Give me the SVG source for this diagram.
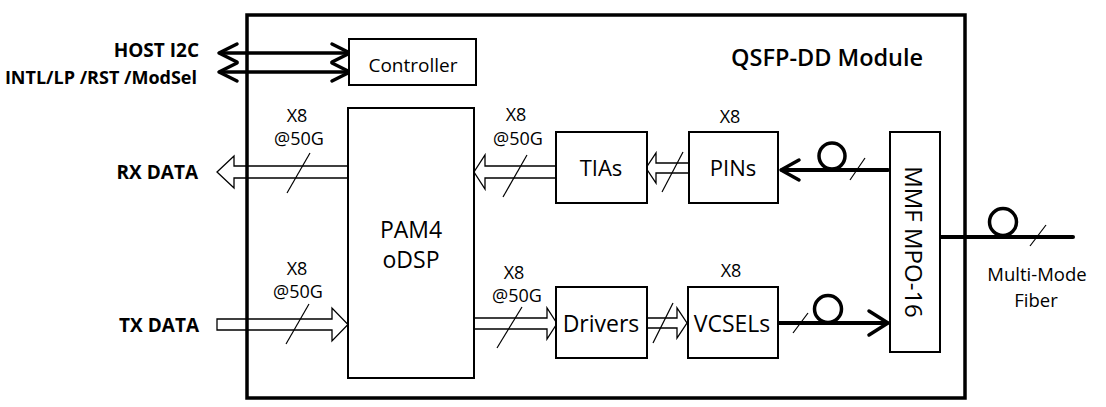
<svg xmlns="http://www.w3.org/2000/svg" width="1106" height="407" viewBox="0 0 1106 407">
<style>
text{font-family:"Open Sans","Noto Sans","DejaVu Sans",sans-serif;fill:#000}
.lbl{font-size:19px;font-weight:700;text-anchor:end}
.small{font-size:18px;text-anchor:middle}
.blk{font-size:22px;text-anchor:middle}
.box{fill:#fff;stroke:#000;stroke-width:2}
.hollow{fill:none;stroke:#000;stroke-width:1.3;stroke-linejoin:miter}
.fiber{fill:none;stroke:#000;stroke-width:4;stroke-linecap:round}
.thk{fill:none;stroke:#000;stroke-width:3.5;stroke-linecap:round;stroke-linejoin:round}
.slash{stroke:#000;stroke-width:1.2}
.loop{fill:none;stroke:#000;stroke-width:3.5}
</style>
<rect width="1106" height="407" fill="#fff"/>

<g id="connectors">
  <!-- host control arrows -->
  <line class="thk" x1="220" y1="53" x2="349" y2="53"/>
  <polyline class="thk" points="237,44 219,53 237,62"/>
  <polyline class="thk" points="332,44 350,53 332,62"/>
  <line class="thk" x1="220" y1="72" x2="349" y2="72"/>
  <polyline class="thk" points="237,63 219,72 237,81"/>
  <polyline class="thk" points="332,63 350,72 332,81"/>

  <!-- RX data: PAM4 -> host -->
  <polygon class="hollow" points="348,166 234,166 234,156 217,172 234,188 234,178 348,178"/>
  <line class="slash" x1="287" y1="193" x2="310" y2="153"/>
  <!-- TIAs -> PAM4 -->
  <polygon class="hollow" points="557,166 485,166 485,155 474,172 485,189 485,178 557,178"/>
  <line class="slash" x1="503" y1="197" x2="527" y2="155"/>
  <!-- PINs -> TIAs -->
  <polygon class="hollow" points="689,163 656,163 656,153 646,168 656,183 656,173 689,173"/>
  <line class="slash" x1="662" y1="192" x2="683" y2="152"/>
  <!-- fiber MMF -> PINs -->
  <line class="fiber" x1="888" y1="170" x2="782" y2="170"/>
  <polyline class="thk" points="799,160 781,170 799,180"/>
  <circle class="loop" cx="832" cy="156" r="13"/>
  <line class="slash" x1="850" y1="180" x2="865" y2="158"/>

  <!-- TX data: host -> PAM4 -->
  <polygon class="hollow" points="217,319 332,319 332,308 348,324.5 332,341 332,330 217,330"/>
  <line class="slash" x1="286" y1="344" x2="309" y2="304"/>
  <!-- PAM4 -> Drivers -->
  <polygon class="hollow" points="474,318 547,318 547,308 557,323.5 547,339 547,329 474,329"/>
  <line class="slash" x1="497" y1="348" x2="522" y2="307"/>
  <!-- Drivers -> VCSELs -->
  <polygon class="hollow" points="645,318 677,318 677,308 687,323 677,338 677,328 645,328"/>
  <line class="slash" x1="653" y1="343" x2="673" y2="303"/>
  <!-- fiber VCSELs -> MMF -->
  <line class="fiber" x1="778" y1="323" x2="887" y2="323"/>
  <polyline class="thk" points="869,311 888,323 869,335"/>
  <circle class="loop" cx="828" cy="309" r="13.5"/>
  <line class="slash" x1="793" y1="333" x2="808" y2="313"/>

  <!-- output multi-mode fiber -->
  <line class="fiber" x1="940" y1="237" x2="1073" y2="237"/>
  <circle class="loop" cx="1003" cy="222" r="13.5"/>
  <line class="slash" x1="1030" y1="246" x2="1046" y2="225"/>
</g>

<g id="module">
  <rect x="247" y="15" width="718" height="383" fill="none" stroke="#000" stroke-width="3.5"/>
  <text x="731" y="66" style="font-size:23.5px;font-weight:600">QSFP-DD Module</text>
</g>

<g id="host-labels">
  <text class="lbl" x="199" y="57">HOST I2C</text>
  <text class="lbl" x="197" y="84" style="font-size:18px">INTL/LP /RST /ModSel</text>
  <text class="lbl" x="198" y="179">RX DATA</text>
  <text class="lbl" x="199" y="332">TX DATA</text>
</g>

<g id="lane-labels">
  <text class="small" x="297" y="122">X8</text>
  <text class="small" x="299" y="145">@50G</text>
  <text class="small" x="516" y="121">X8</text>
  <text class="small" x="518" y="145">@50G</text>
  <text class="small" x="730" y="123">X8</text>
  <text class="small" x="297" y="275">X8</text>
  <text class="small" x="298" y="298">@50G</text>
  <text class="small" x="514" y="279">X8</text>
  <text class="small" x="517" y="302">@50G</text>
  <text class="small" x="731" y="277">X8</text>
</g>

<g id="controller">
  <rect class="box" x="349" y="39" width="127" height="46"/>
  <text x="413" y="72" style="font-size:19px;text-anchor:middle">Controller</text>
</g>

<g id="pam4">
  <rect class="box" x="348" y="108" width="126" height="270"/>
  <text class="blk" x="411" y="238" style="font-size:23px">PAM4</text>
  <text class="blk" x="411" y="268" style="font-size:23px">oDSP</text>
</g>

<g id="tias">
  <rect class="box" x="556" y="132" width="91" height="71"/>
  <text class="blk" x="601" y="176">TIAs</text>
</g>

<g id="pins">
  <rect class="box" x="689" y="132" width="89" height="71"/>
  <text class="blk" x="733" y="176">PINs</text>
</g>

<g id="drivers">
  <rect class="box" x="556" y="287" width="91" height="71"/>
  <text class="blk" x="601" y="332" style="font-size:23px">Drivers</text>
</g>

<g id="vcsels">
  <rect class="box" x="688" y="287" width="90" height="71"/>
  <text class="blk" x="732" y="332" style="font-size:23px">VCSELs</text>
</g>

<g id="mpo">
  <rect class="box" x="890" y="132" width="50" height="220"/>
  <text transform="translate(905,242) rotate(90)" style="font-size:24px;text-anchor:middle">MMF MPO-16</text>
</g>

<g id="fiber-label">
  <text x="1037" y="281" style="font-size:18.5px;text-anchor:middle">Multi-Mode</text>
  <text x="1036" y="307" style="font-size:18.5px;text-anchor:middle">Fiber</text>
</g>
</svg>
